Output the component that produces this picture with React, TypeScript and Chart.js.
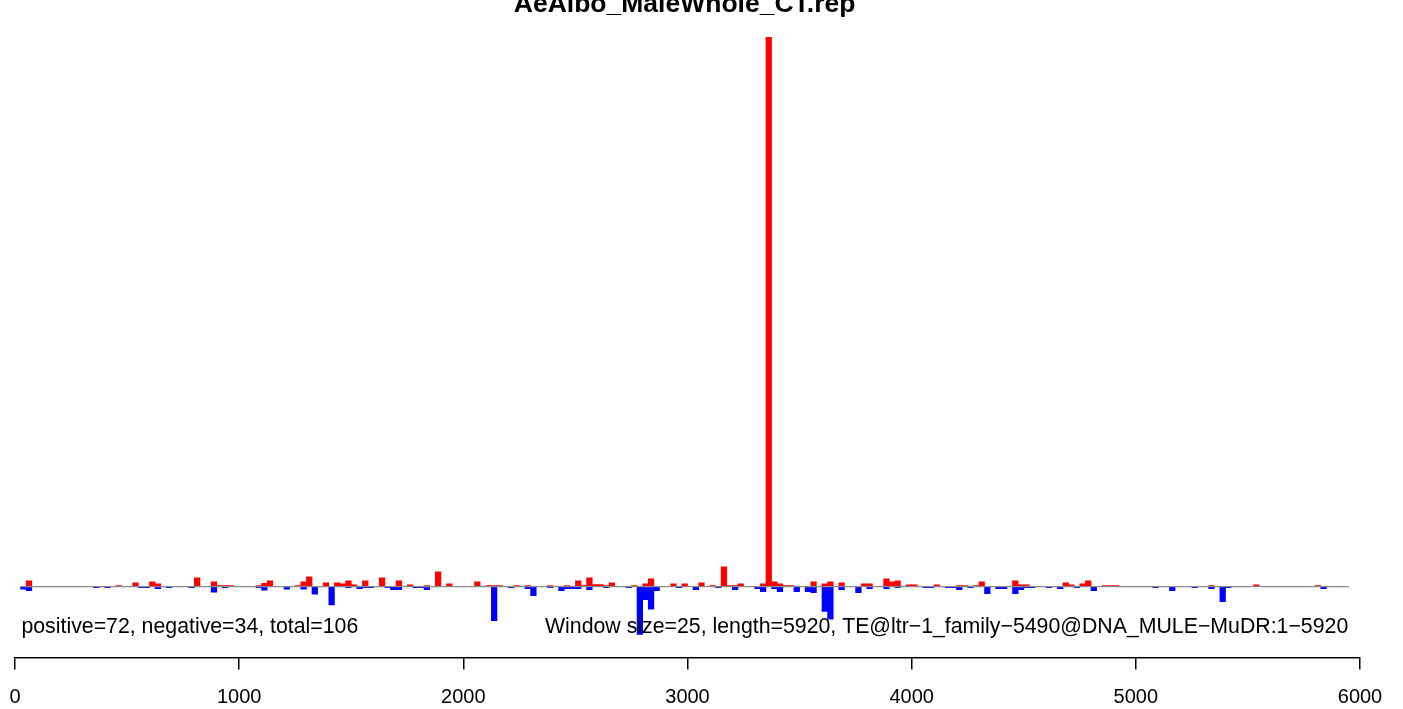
import React, { useEffect, useRef } from "react";
import { Chart, registerables } from "chart.js";

Chart.register(...registerables);

const TITLE = "AeAlbo_MaleWhole_CT.rep";
const WINDOW_SIZE = 25;
const X_TICKS = [0, 1000, 2000, 3000, 4000, 5000, 6000];
const STATS_LABEL = "positive=72, negative=34, total=106";
const INFO_LABEL = "Window size=25, length=5920, TE@ltr\u22121_family\u22125490@DNA_MULE\u2212MuDR:1\u22125920";

// window indices (window i covers [25*i, 25*i+25)) and signal heights
const posWindows = [
  2, 18, 21, 24, 25, 32, 35, 36, 37, 38, 43, 44, 45, 50, 51, 52, 55, 57, 58, 59,
  60, 62, 65, 68, 70, 73, 75, 77, 82, 84, 85, 86, 89, 91, 95, 98, 100, 101, 102, 103,
  104, 105, 106, 110, 112, 113, 117, 119, 122, 124, 126, 127, 128, 129, 133, 134, 135, 136, 137, 138,
  142, 144, 145, 147, 151, 152, 155, 156, 157, 159, 160, 164, 168, 169, 171, 172, 178, 179, 180, 187,
  188, 190, 191, 194, 195, 196, 213, 221, 232,
];
const posValues = [
  5.7, 1, 3.7, 4.7, 2.7, 8.7, 4.7, 1, 1, 1, 1, 3.3, 5.7, 1, 4.7, 9.7, 3.7, 3.7, 2.7, 5.7,
  1.7, 5.7, 8.7, 5.7, 1.7, 1, 14.7, 2.7, 4.7, 1, 1, 1, 1, 1, 1, 1, 5.7, 1, 8.7, 2,
  2, 1, 3.7, 1, 2.7, 7.7, 2.7, 2.7, 3.7, 1, 19.7, 1, 1, 2.7, 2.7, 550, 4.7, 2.7, 1, 1,
  4.7, 2.7, 4.7, 3.7, 2.7, 2.7, 7.7, 4.7, 5.7, 1.7, 1.7, 1.7, 1, 1, 1, 4.7, 5.7, 1.7, 1.7, 3.7,
  1.7, 2.7, 5.7, 1, 1, 1, 1, 1.7, 1,
];
const negWindows = [
  1, 2, 14, 16, 22, 23, 25, 27, 31, 35, 37, 43, 44, 48, 51, 53, 56, 59, 61, 62,
  63, 66, 67, 68, 71, 72, 73, 85, 88, 91, 92, 95, 97, 98, 99, 100, 102, 105, 109, 111,
  112, 113, 114, 118, 121, 125, 128, 132, 133, 135, 136, 139, 141, 142, 144, 145, 147, 150, 152, 155,
  157, 162, 163, 166, 167, 168, 170, 173, 175, 176, 178, 179, 180, 181, 184, 186, 189, 192, 203, 206,
  210, 213, 215, 216, 233,
];
const negValues = [
  -2.5, -4, -1, -1, -1, -1, -2, -1, -1, -5.5, -1, -1, -3.5, -2.5, -2.5, -7.5, -18.5, -1, -2.2, -1,
  -1, -1, -3.2, -3.2, -1, -1, -3.2, -34.2, -1, -2, -9, -1, -4, -2.2, -2.2, -2.2, -3, -1, -1, -48,
  -13, -22.7, -4, -1, -3, -1, -3, -2, -5, -2, -5, -5, -5, -6, -25, -32.7, -3, -6, -2, -2,
  -1, -1, -1, -1, -1, -3, -1, -7, -2, -2, -7, -3, -1, -1, -1, -2, -1, -4, -1, -4,
  -1, -2, -15, -1, -2,
];

const BASELINE_START = 22;
const BASELINE_END = 5952;
const Y_MAX = 550;
const Y_MIN = -71;
const TEXT_Y = -46.3;

const FONT = "'Liberation Sans', Arial, Helvetica, sans-serif";

export default function App() {
  const ref = useRef<HTMLCanvasElement | null>(null);

  useEffect(() => {
    if (!ref.current) return;
    const toPoints = (ws: number[], vs: number[]) =>
      ws.map((w, k) => ({ x: w * WINDOW_SIZE + WINDOW_SIZE / 2, y: vs[k] }));

    const textPlugin = {
      id: "rtexts",
      afterDraw(chart: any) {
        const { ctx, scales } = chart;
        const x = scales.x;
        const y = scales.y;
        ctx.save();
        ctx.fillStyle = "#000";
        ctx.textBaseline = "alphabetic";
        ctx.font = `bold 26.5px ${FONT}`;
        ctx.textAlign = "center";
        ctx.fillText(TITLE, (x.getPixelForValue(BASELINE_START) + x.getPixelForValue(BASELINE_END)) / 2, 12);
        ctx.font = `21.3px ${FONT}`;
        ctx.textAlign = "left";
        ctx.fillText(STATS_LABEL, x.getPixelForValue(BASELINE_START) + 1.5, y.getPixelForValue(TEXT_Y));
        ctx.textAlign = "right";
        ctx.fillText(INFO_LABEL, x.getPixelForValue(BASELINE_END) - 1, y.getPixelForValue(TEXT_Y));
        ctx.restore();
      },
    };

    const chart = new Chart(ref.current, {
      type: "bar",
      data: {
        datasets: [
          {
            type: "line",
            data: [
              { x: BASELINE_START, y: 0 },
              { x: BASELINE_END, y: 0 },
            ],
            borderColor: "#8c8c8c",
            borderWidth: 1.2,
            pointRadius: 0,
            order: 0,
          } as any,
          {
            data: toPoints(posWindows, posValues),
            backgroundColor: "#ff0000",
            borderWidth: 0,
            grouped: false,
            barPercentage: 1,
            categoryPercentage: 1,
            order: 2,
          },
          {
            data: toPoints(negWindows, negValues),
            backgroundColor: "#0000ff",
            borderWidth: 0,
            grouped: false,
            barPercentage: 1,
            categoryPercentage: 1,
            order: 1,
          },
        ],
      },
      options: {
        animation: false,
        responsive: false,
        devicePixelRatio: 1,
        layout: { padding: { left: 15, right: 43, top: 37, bottom: 0 } },
        plugins: {
          legend: { display: false },
          tooltip: { enabled: false },
          title: { display: false },
        },
        scales: {
          x: {
            type: "linear",
            min: 0,
            max: 6000,
            offset: false,
            afterBuildTicks: (scale: any) => {
              scale.ticks = X_TICKS.map((v) => ({ value: v }));
            },
            afterFit: (scale: any) => {
              scale.height = 51.5;
              scale.paddingLeft = 0;
              scale.paddingRight = 0;
            },
            ticks: {
              autoSkip: false,
              maxRotation: 0,
              minRotation: 0,
              color: "#000",
              padding: 16,
              font: { size: 20, family: FONT },
              callback: (v: any) => String(v),
            },
            grid: {
              display: true,
              drawOnChartArea: false,
              drawTicks: true,
              tickLength: 12,
              color: "#000",
              lineWidth: 1.5,
              offset: false,
            },
            border: { display: true, color: "#000", width: 1.5 },
          },
          y: {
            display: false,
            min: Y_MIN,
            max: Y_MAX,
          },
        },
      },
      plugins: [textPlugin],
    } as any);

    return () => chart.destroy();
  }, []);

  return (
    <div style={{ position: "fixed", left: 0, top: 0, width: 1403, height: 709, background: "#fff" }}>
      <canvas ref={ref} width={1403} height={709} style={{ display: "block" }} />
    </div>
  );
}
